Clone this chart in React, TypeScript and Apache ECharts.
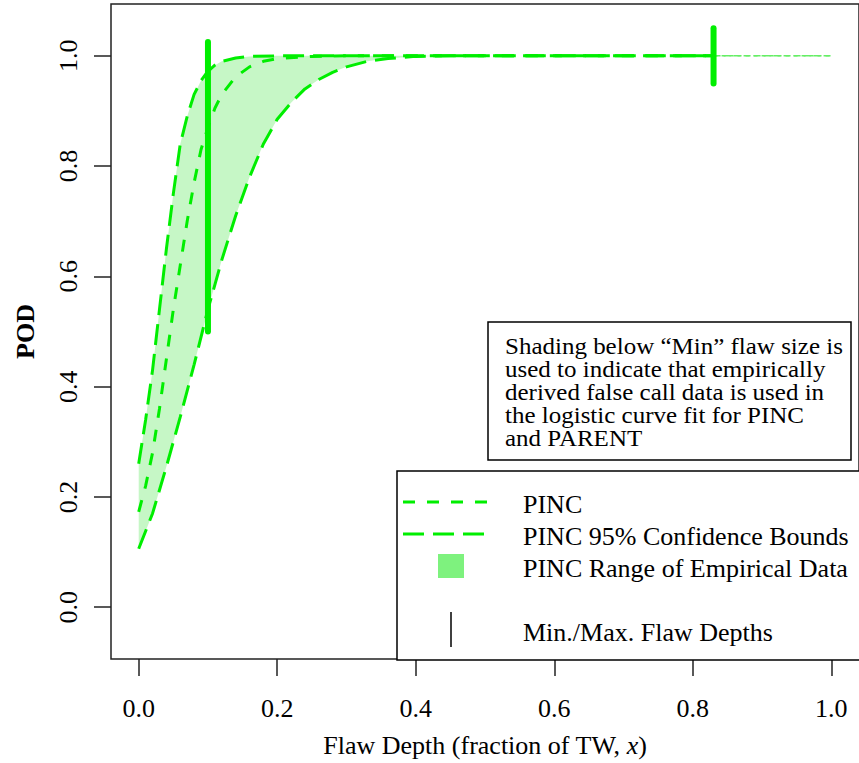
import React, { useEffect, useRef } from "react";
import * as echarts from "echarts";

// ---- data ----
const xTicks = [0, 0.2, 0.4, 0.6, 0.8, 1.0];
const yTicks = [0, 0.2, 0.4, 0.6, 0.8, 1.0];

const upperX = [0, 0.01, 0.02, 0.03, 0.04, 0.05, 0.06, 0.07, 0.08, 0.09, 0.1, 0.11, 0.12, 0.14, 0.16, 0.2, 0.83];
const upperPOD = [0.26, 0.34, 0.43, 0.54, 0.65, 0.75, 0.84, 0.89, 0.93, 0.955, 0.972, 0.983, 0.99, 0.996, 0.999, 1.0, 1.0];

const pincX = [0, 0.01, 0.02, 0.03, 0.04, 0.05, 0.06, 0.07, 0.08, 0.09, 0.1, 0.11, 0.12, 0.14, 0.16, 0.18, 0.2, 0.25, 0.3, 0.83];
const pincPOD = [0.173, 0.22, 0.28, 0.36, 0.45, 0.54, 0.62, 0.7, 0.77, 0.83, 0.87, 0.905, 0.93, 0.962, 0.98, 0.99, 0.995, 0.999, 1.0, 1.0];

const lowerX = [0, 0.02, 0.04, 0.06, 0.08, 0.1, 0.12, 0.14, 0.16, 0.18, 0.2, 0.22, 0.24, 0.26, 0.28, 0.3, 0.33, 0.36, 0.4, 0.45, 0.83];
const lowerPOD = [0.106, 0.17, 0.255, 0.345, 0.44, 0.54, 0.63, 0.71, 0.78, 0.84, 0.885, 0.915, 0.94, 0.957, 0.97, 0.98, 0.99, 0.995, 0.999, 1.0, 1.0];

const tailX = [0.83, 1.0];
const tailPOD = [1.0, 1.0];

const minDepth = 0.1;
const maxDepth = 0.83;
const minBar = [0.5, 1.025];
const maxBar = [0.95, 1.05];

const legendLabels = [
  "PINC",
  "PINC 95% Confidence Bounds",
  "PINC Range of Empirical Data",
  "Min./Max. Flaw Depths",
];

const noteLines = [
  "Shading below \u201cMin\u201d flaw size is",
  "used to indicate that empirically",
  "derived false call data is used in",
  "the logistic curve fit for PINC",
  "and PARENT",
];

// ---- styles ----
const FONT = '"Liberation Serif", "Times New Roman", serif';
const GREEN = "#00ee00";
const TAIL = "#66ee66";
const FILL = "#c6f7c6";
const SQUARE = "#7ef27e";

const zip = (xs: number[], ys: number[]) => xs.map((x, i) => [x, ys[i]]);

export default function App() {
  const ref = useRef<HTMLDivElement>(null);
  useEffect(() => {
    if (!ref.current) return;
    const chart = echarts.init(ref.current, undefined, { renderer: "svg" });

    const curve = (xs: number[], ys: number[], dash: number[]) => ({
      type: "line",
      data: zip(xs, ys),
      symbol: "none",
      silent: true,
      z: 3,
      lineStyle: { color: GREEN, width: 3, type: dash, cap: "butt" },
    });
    const tail = (dash: number[]) => ({
      type: "line",
      data: zip(tailX, tailPOD),
      symbol: "none",
      silent: true,
      z: 3,
      lineStyle: { color: TAIL, width: 1.5, type: dash },
    });
    const bar = (x: number, ys: number[]) => ({
      type: "line",
      data: ys.map((y) => [x, y]),
      symbol: "none",
      silent: true,
      z: 4,
      lineStyle: { color: GREEN, width: 6, cap: "round" },
    });

    const legendY = [504, 536, 568, 632];
    const graphics: any[] = [
      {
        type: "rect",
        z: 10,
        shape: { x: 397, y: 471, width: 490, height: 189 },
        style: { fill: "#fff", stroke: "#000", lineWidth: 1.5 },
      },
      {
        type: "line",
        z: 11,
        shape: { x1: 403, y1: 502, x2: 493, y2: 502 },
        style: { stroke: GREEN, lineWidth: 3, lineDash: [12, 12] },
      },
      {
        type: "line",
        z: 11,
        shape: { x1: 403, y1: 534, x2: 493, y2: 534 },
        style: { stroke: GREEN, lineWidth: 3, lineDash: [21, 9] },
      },
      {
        type: "rect",
        z: 11,
        shape: { x: 438, y: 554, width: 26, height: 24 },
        style: { fill: SQUARE },
      },
      {
        type: "line",
        z: 11,
        shape: { x1: 451, y1: 612, x2: 451, y2: 647 },
        style: { stroke: "#000", lineWidth: 1.5 },
      },
      ...legendLabels.map((t, i) => ({
        type: "text",
        z: 11,
        x: 523,
        y: legendY[i],
        style: { text: t, fontSize: 26, fontFamily: FONT, fill: "#000", align: "left", verticalAlign: "middle" },
      })),
      {
        type: "rect",
        z: 10,
        shape: { x: 488, y: 322, width: 363, height: 138 },
        style: { fill: "#fff", stroke: "#000", lineWidth: 1.5 },
      },
      ...noteLines.map((t, i) => ({
        type: "text",
        z: 11,
        x: 505,
        y: 346 + i * 23,
        scaleY: 0.9,
        style: {
          text: t,
          fontSize: 25,
          lineHeight: 25,
          fontFamily: FONT,
          fill: "#000",
          align: "left",
          verticalAlign: "middle",
        },
      })),
    ];

    const option: any = {
      animation: false,
      grid: {
        left: 111,
        top: 4,
        right: -2,
        bottom: 103,
        show: true,
        borderColor: "#222",
        borderWidth: 1.5,
        backgroundColor: "transparent",
      },
      xAxis: {
        type: "value",
        min: -0.04,
        max: 1.04,
        splitLine: { show: false },
        axisLine: { show: false, onZero: false },
        axisTick: { show: true, inside: false, length: 17, lineStyle: { color: "#222", width: 1.5 }, customValues: xTicks },
        axisLabel: {
          customValues: xTicks,
          formatter: (v: number) => v.toFixed(1),
          margin: 36,
          fontSize: 26,
          fontFamily: FONT,
          color: "#000",
        },
        name: "Flaw Depth (fraction of TW, {i|x})",
        nameLocation: "middle",
        nameGap: 73,
        nameTextStyle: {
          fontSize: 26,
          fontFamily: FONT,
          color: "#000",
          rich: { i: { fontSize: 26, fontFamily: FONT, fontStyle: "italic", color: "#000" } },
        },
      },
      yAxis: {
        type: "value",
        min: -0.094,
        max: 1.094,
        splitLine: { show: false },
        axisLine: { show: false, onZero: false },
        axisTick: { show: true, inside: false, length: 17, lineStyle: { color: "#222", width: 1.5 }, customValues: yTicks },
        axisLabel: {
          customValues: yTicks,
          formatter: (v: number) => v.toFixed(1),
          rotate: 90,
          margin: 30,
          fontSize: 26,
          fontFamily: FONT,
          color: "#000",
        },
        name: "POD",
        nameLocation: "middle",
        nameGap: 73,
        nameTextStyle: { fontSize: 26, fontFamily: FONT, fontWeight: "bold", color: "#000" },
      },
      series: [
        {
          type: "custom",
          silent: true,
          z: 1,
          clip: true,
          data: [[0, 0]],
          renderItem: (_params: any, api: any) => {
            const pts: number[][] = [];
            for (let i = 0; i < upperX.length; i++) pts.push(api.coord([upperX[i], upperPOD[i]]));
            for (let i = lowerX.length - 1; i >= 0; i--) pts.push(api.coord([lowerX[i], lowerPOD[i]]));
            return { type: "polygon", shape: { points: pts }, style: { fill: FILL } };
          },
        },
        curve(upperX, upperPOD, [21, 9]),
        curve(lowerX, lowerPOD, [21, 9]),
        curve(pincX, pincPOD, [12, 12]),
        tail([4, 4]),
        tail([7, 3]),
        bar(minDepth, minBar),
        bar(maxDepth, maxBar),
      ],
      graphic: { elements: graphics },
    };

    chart.setOption(option);
    return () => chart.dispose();
  }, []);

  return (
    <div
      ref={ref}
      style={{ position: "fixed", left: 0, top: 0, width: 859, height: 763, background: "#fff" }}
    />
  );
}
